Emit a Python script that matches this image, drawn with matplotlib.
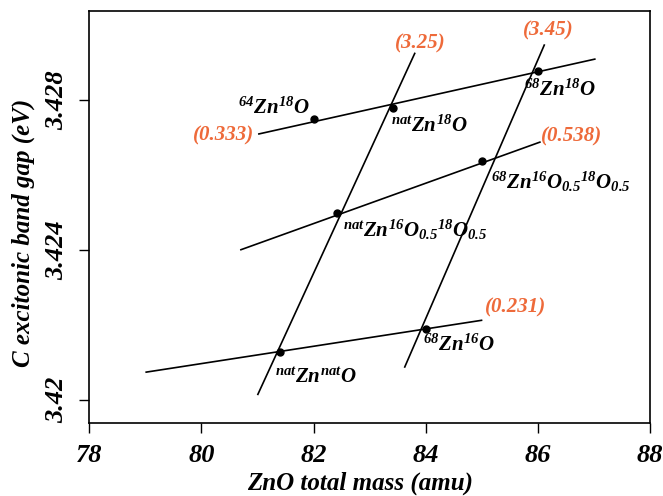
import numpy as np
import matplotlib
matplotlib.use("Agg")
import matplotlib.pyplot as plt

plt.rcParams["font.family"] = "Liberation Serif"
plt.rcParams["font.weight"] = "bold"
plt.rcParams["font.style"] = "italic"
plt.rcParams["axes.labelweight"] = "bold"
plt.rcParams["mathtext.fontset"] = "custom"
plt.rcParams["mathtext.rm"] = "Liberation Serif:bold"
plt.rcParams["mathtext.it"] = "Liberation Serif:italic:bold"
plt.rcParams["mathtext.bf"] = "Liberation Serif:bold"

# isotopic compounds: total mass (amu) and C exciton gap (eV)
compounds = [
    r"$^{64}\mathrm{Z}n^{18}O$",
    r"$^{nat}\mathrm{Z}n^{18}O$",
    r"$^{68}\mathrm{Z}n^{18}O$",
    r"$^{68}\mathrm{Z}n^{16}O_{\mathit{0.5}}{}^{18}O_{\mathit{0.5}}$",
    r"$^{nat}\mathrm{Z}n^{16}O_{\mathit{0.5}}{}^{18}O_{\mathit{0.5}}$",
    r"$^{nat}\mathrm{Z}n^{nat}O$",
    r"$^{68}\mathrm{Z}n^{16}O$",
]
mass = [82.01, 83.41, 86.01, 85.01, 82.42, 81.40, 84.01]
gap = [3.42749, 3.42778, 3.42878, 3.42638, 3.42500, 3.42128, 3.42189]

# linear trends: slope in meV/amu, start point and end mass
slopes = [0.333, 0.538, 0.231, 3.25, 3.45]
start_mass = [81.01, 80.69, 79.00, 81.00, 83.62]
start_gap = [3.42709, 3.42400, 3.42074, 3.42013, 3.42086]
end_mass = [87.03, 86.05, 85.01, 83.81, 86.12]

orange = "#EE6A3A"

# label placement (pixels from dot / line end)
name_offsets = [(-76, 11), (-2, -18), (-14, -19), (9, -21), (6, -17), (-5, -26), (-3, -16)]
slope_anchor = ["start", "end", "end", "end", "end"]
slope_offsets = [(-4, -1), (0, 5), (3, 13), (5, 9), (4, 14)]
slope_ha = ["right", "left", "left", "center", "center"]

fig = plt.figure(figsize=(6.63, 4.96), dpi=100)
ax = fig.add_axes([0.1347, 0.1478, 0.8457, 0.8300])

for s, x0, y0, x1, ha, anc, off in zip(slopes, start_mass, start_gap, end_mass,
                                       slope_ha, slope_anchor, slope_offsets):
    xs = np.array([x0, x1])
    ys = y0 + s * 1e-3 * (xs - x0)
    ax.plot(xs, ys, color="black", linewidth=1.2, solid_capstyle="butt")
    px, py = (xs[0], ys[0]) if anc == "start" else (xs[1], ys[1])
    ax.annotate(f"({s:g})", (px, py), xytext=off, textcoords="offset pixels",
                ha=ha, va="center", color=orange, fontsize=15)

ax.plot(mass, gap, "o", color="black", markersize=5, zorder=3)
for name, x, y, off in zip(compounds, mass, gap, name_offsets):
    ax.annotate(name, (x, y), xytext=off, textcoords="offset pixels",
                ha="left", va="center", fontsize=15, color="black")

ax.set_xlim(78, 88)
ax.set_ylim(3.419395, 3.430373)
ax.set_xticks([78, 80, 82, 84, 86, 88])
ax.set_yticks([3.420, 3.424, 3.428])
ax.set_yticklabels(["3.42", "3.424", "3.428"], rotation=90, va="center")
ax.tick_params(direction="out", length=7.5, width=1.0, labelsize=19, pad=8)
ax.tick_params(axis="y", pad=8)
for sp in ax.spines.values():
    sp.set_linewidth(1.2)

ax.set_xlabel("ZnO total mass (amu)", fontsize=18)
ax.set_ylabel("C excitonic band gap (eV)", fontsize=18)
ax.xaxis.set_label_coords(0.483, -0.118)
ax.yaxis.set_label_coords(-0.097, 0.46)

fig.savefig("out.png", dpi=100)
